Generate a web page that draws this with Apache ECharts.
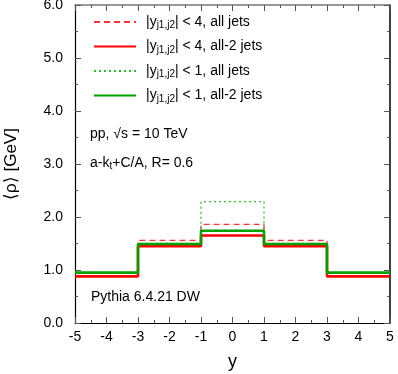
<!DOCTYPE html>
<html><head><meta charset="utf-8">
<script src="https://cdn.jsdelivr.net/npm/echarts@6/dist/echarts.min.js"></script>
<style>html,body{margin:0;padding:0;background:#fff}#c{width:398px;height:374px}</style>
</head><body><div id="c"></div>
<script>
// bin edges and values (last value repeated to close the step)
const binEdges = [-5, -3, -1, 1, 3, 5];
const y4All   = [0.89, 1.56, 1.86, 1.56, 0.89];
const y4All2  = [0.88, 1.45, 1.65, 1.45, 0.88];
const y1All   = [0.95, 1.50, 2.29, 1.50, 0.95];
const y1All2  = [0.95, 1.49, 1.74, 1.49, 0.95];
const seriesNames = ['s4all', 's4all2', 's1all', 's1all2'];
const legendLabels = {
  s4all:  ['4', 'all jets'],
  s4all2: ['4', 'all-2 jets'],
  s1all:  ['1', 'all jets'],
  s1all2: ['1', 'all-2 jets']
};
const xTicks = [-5,-4,-3,-2,-1,0,1,2,3,4,5];

function stepData(vals){
  const d = vals.map((v,i)=>[binEdges[i], v]);
  d.push([binEdges[binEdges.length-1], vals[vals.length-1]]);
  return d;
}
const FONT = 'Liberation Sans, Arial, Helvetica, sans-serif';
const chart = echarts.init(document.getElementById('c'));
const mk = (name, vals, color, type, width, z) => ({
  name, type:'line', step:'end', data: stepData(vals), symbol:'none', showSymbol:false,
  lineStyle:{color, type, width}, itemStyle:{color}, z, animation:false, silent:true
});
chart.setOption({
  animation:false,
  grid:{left:75, right:8, top:5, bottom:51, containLabel:false, outerBoundsMode:'none'},
  legend:{
    orient:'vertical', left:93, top:15, padding:0, itemWidth:42, itemHeight:14, itemGap:9,
    itemStyle:{opacity:0},
    data: seriesNames,
    textStyle:{fontFamily:FONT, fontSize:14, color:'#000',
      rich:{
        n:{fontFamily:FONT, fontSize:14, color:'#000', padding:[0,0,0,5]},
        sub:{fontFamily:FONT, fontSize:10, color:'#000', padding:[7,0,0,0]},
        t:{fontFamily:FONT, fontSize:14, color:'#000'}
      }},
    formatter: n => '{n||y}{sub|j1,j2}{t|| < ' + legendLabels[n][0] + ', ' + legendLabels[n][1] + '}'
  },
  xAxis:[{
    type:'value', min:-5, max:5, interval:1,
    name:'y', nameLocation:'middle', nameGap:30,
    nameTextStyle:{fontFamily:FONT, fontSize:18, color:'#000'},
    axisLine:{onZero:false, lineStyle:{color:'#000', width:1.2}},
    axisTick:{inside:true, length:6, lineStyle:{color:'#555'}},
    minorTick:{show:true, splitNumber:2, length:3, lineStyle:{color:'#555'}},
    axisLabel:{fontFamily:FONT, fontSize:14, color:'#000', margin:7,
      customValues: xTicks, formatter: v => String(v)},
    splitLine:{show:false}
  },{
    type:'value', position:'top', min:-5, max:5, interval:1,
    axisLine:{onZero:false, lineStyle:{color:'#777', width:1.5}},
    axisTick:{inside:true, length:6, lineStyle:{color:'#555'}},
    minorTick:{show:true, splitNumber:2, length:3, lineStyle:{color:'#555'}},
    axisLabel:{show:false}, splitLine:{show:false}
  }],
  yAxis:[{
    type:'value', min:0, max:6, interval:1,
    name:'⟨ρ⟩ [GeV]', nameLocation:'middle', nameGap:55,
    nameTextStyle:{fontFamily:FONT, fontSize:17, color:'#000'},
    axisLine:{show:true, onZero:false, lineStyle:{color:'#000', width:1.2}},
    axisTick:{show:true, inside:true, length:6, lineStyle:{color:'#555'}},
    minorTick:{show:true, splitNumber:2, length:3, lineStyle:{color:'#555'}},
    axisLabel:{fontFamily:FONT, fontSize:14, color:'#000', margin:12,
      formatter: v => v.toFixed(1)},
    splitLine:{show:false}
  },{
    type:'value', position:'right', min:0, max:6, interval:1,
    axisLine:{show:true, onZero:false, lineStyle:{color:'#000', width:1.5}},
    axisTick:{show:true, inside:true, length:6, lineStyle:{color:'#555'}},
    minorTick:{show:true, splitNumber:2, length:3, lineStyle:{color:'#555'}},
    axisLabel:{show:false}, splitLine:{show:false}
  }],
  series:[
    mk('s4all',  y4All,  '#ff3333', [6,4], 1.3, 2),
    mk('s1all',  y1All,  '#33bb33', [2,3], 1.3, 3),
    mk('s4all2', y4All2, '#ff0000', 'solid', 2.6, 4),
    mk('s1all2', y1All2, '#00a000', 'solid', 2.6, 5)
  ],
  graphic:[
    {type:'text', left:90, top:127, style:{text:'pp, √s = 10 TeV', font:'14px '+FONT, fill:'#000'}},
    {type:'text', left:90, top:156, style:{
      text:'{a|a-k}{s|t}{a|+C/A, R= 0.6}',
      rich:{a:{fontFamily:FONT, fontSize:14, fill:'#000'}, s:{fontFamily:FONT, fontSize:10, fill:'#000', padding:[6,0,0,0]}}
    }},
    {type:'text', left:91, top:290, style:{text:'Pythia 6.4.21 DW', font:'14px '+FONT, fill:'#000'}}
  ]
});
</script></body></html>
